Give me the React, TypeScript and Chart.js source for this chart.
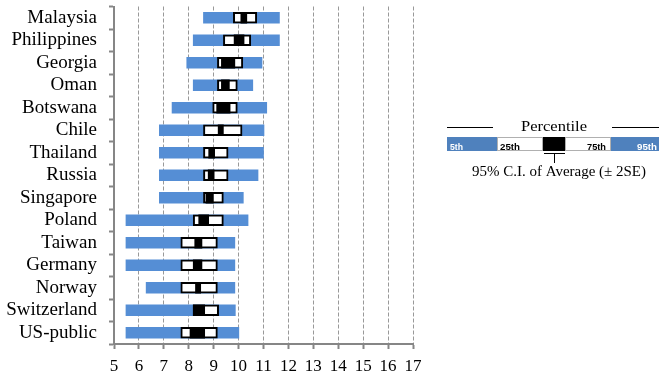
import React, { useEffect, useRef } from 'react';
import { Chart, registerables } from 'chart.js';

Chart.register(...registerables);

// Countries, top to bottom
const countries = [
  'Malaysia', 'Philippines', 'Georgia', 'Oman', 'Botswana', 'Chile', 'Thailand',
  'Russia', 'Singapore', 'Poland', 'Taiwan', 'Germany', 'Norway', 'Switzerland', 'US-public',
];

// Percentiles of the distribution
const p5 = [8.59, 8.18, 7.92, 8.18, 7.33, 6.82, 6.82, 6.82, 6.82, 5.48, 5.48, 5.48, 6.29, 5.48, 5.48];
const p25 = [9.79, 9.39, 9.15, 9.15, 8.96, 8.59, 8.59, 8.59, 8.59, 8.18, 7.68, 7.68, 7.68, 8.18, 7.68];
const p75 = [10.73, 10.49, 10.17, 9.95, 9.95, 10.14, 9.58, 9.58, 9.39, 9.39, 9.15, 9.15, 9.15, 9.2, 9.15];
const p95 = [11.64, 11.64, 10.94, 10.57, 11.13, 11.02, 11.0, 10.78, 10.19, 10.38, 9.85, 9.85, 9.85, 9.87, 10.01];

// 95% confidence interval of the average (mean ± 2SE)
const ciLow = [10.09, 9.82, 9.31, 9.31, 9.12, 9.18, 8.8, 8.78, 8.69, 8.4, 8.24, 8.18, 8.27, 8.18, 8.05];
const ciHigh = [10.33, 10.22, 9.85, 9.63, 9.66, 9.39, 9.04, 9.02, 8.99, 8.8, 8.53, 8.53, 8.48, 8.64, 8.64];

// Axis range
const xMin = 5;
const xMax = 17;

// Key texts
const keyTitle = 'Percentile';
const keyLabels = ['5th', '25th', '75th', '95th'];
const keyNote = '95% C.I. of Average (± 2SE)';

const SERIF = '"Liberation Serif", "Times New Roman", serif';
const BAR_BLUE = '#558ED5';
const KEY_BLUE = '#4F81BD';
const AXIS_GRAY = '#868686';

function stretchedText(
  ctx: CanvasRenderingContext2D,
  text: string,
  x: number,
  baseline: number,
  width: number,
  font: string,
  color: string,
  align: 'left' | 'center' | 'right' = 'center',
) {
  ctx.save();
  ctx.font = font;
  const w = ctx.measureText(text).width;
  ctx.translate(x, baseline);
  ctx.scale(width / w, 1);
  ctx.textAlign = align;
  ctx.textBaseline = 'alphabetic';
  ctx.fillStyle = color;
  ctx.fillText(text, 0, 0);
  ctx.restore();
}

// Key explaining the box elements, drawn to the right of the plot
const percentileKey = {
  id: 'percentileKey',
  afterDraw(chart: Chart) {
    const ctx = chart.ctx;
    ctx.save();

    const line = (x1: number, y1: number, x2: number, y2: number) => {
      ctx.beginPath();
      ctx.moveTo(x1, y1);
      ctx.lineTo(x2, y2);
      ctx.stroke();
    };

    ctx.strokeStyle = '#000';
    ctx.lineWidth = 1;
    line(447, 127.5, 493, 127.5);
    line(612, 127.5, 659, 127.5);
    stretchedText(ctx, keyTitle, 554, 131, 66, `14px ${SERIF}`, '#000');

    const top = 137;
    const h = 14;
    ctx.fillStyle = KEY_BLUE;
    ctx.fillRect(447, top, 50, h);
    ctx.fillRect(611, top, 48, h);
    ctx.fillStyle = '#fff';
    ctx.fillRect(497, top, 46, h);
    ctx.fillRect(565, top, 46, h);
    ctx.strokeStyle = '#b0b0b0';
    ctx.strokeRect(497.5, top + 0.5, 45, h - 1);
    ctx.strokeRect(565.5, top + 0.5, 45, h - 1);
    ctx.fillStyle = '#000';
    ctx.fillRect(543, top, 22, h);

    const keyFont = 'bold 9.5px "Liberation Sans", Arial, sans-serif';
    stretchedText(ctx, keyLabels[0], 450, 150, 13, keyFont, '#fff', 'left');
    stretchedText(ctx, keyLabels[1], 500, 150, 20, keyFont, '#000', 'left');
    stretchedText(ctx, keyLabels[2], 606, 150, 19, keyFont, '#000', 'right');
    stretchedText(ctx, keyLabels[3], 657, 150, 20, keyFont, '#fff', 'right');

    ctx.strokeStyle = '#000';
    ctx.lineWidth = 1;
    line(544, 153.5, 565, 153.5);
    line(554.5, 153.5, 554.5, 163);

    stretchedText(ctx, keyNote, 559, 176, 174, `14px ${SERIF}`, '#000');
    ctx.restore();
  },
};

export default function App() {
  const canvasRef = useRef<HTMLCanvasElement>(null);

  useEffect(() => {
    document.body.style.margin = '0';
    const canvas = canvasRef.current;
    if (!canvas) return;

    const range = (a: number[], b: number[]) => a.map((v, i) => [v, b[i]]);

    const chart = new Chart(canvas, {
      type: 'bar',
      data: {
        labels: countries,
        datasets: [
          {
            label: '5th–95th',
            data: range(p5, p95) as any,
            backgroundColor: BAR_BLUE,
            borderWidth: 0,
            barThickness: 11,
            order: 3,
          },
          {
            label: '25th–75th',
            data: range(p25, p75) as any,
            backgroundColor: '#fff',
            borderColor: '#000',
            borderWidth: 2,
            borderSkipped: false,
            barThickness: 11,
            order: 2,
          },
          {
            label: '95% C.I.',
            data: range(ciLow, ciHigh) as any,
            backgroundColor: '#000',
            borderWidth: 0,
            barThickness: 11,
            order: 1,
          },
        ],
      },
      options: {
        indexAxis: 'y',
        animation: false,
        responsive: false,
        events: [],
        datasets: { bar: { grouped: false } },
        layout: { padding: { top: 6.5, right: 246, left: 0, bottom: 0 } },
        plugins: {
          legend: { display: false },
          tooltip: { enabled: false },
        },
        scales: {
          x: {
            type: 'linear',
            min: xMin,
            max: xMax,
            ticks: {
              stepSize: 1,
              color: '#000',
              padding: 7,
              font: { family: SERIF, size: 17 },
            },
            grid: {
              color: '#999999',
              lineWidth: 1,
              tickLength: 5,
              tickColor: AXIS_GRAY,
              tickWidth: 2,
            },
            border: { color: AXIS_GRAY, width: 2, dash: [4, 2] },
            afterFit: (s: any) => {
              s.height = 35;
              s.paddingLeft = 0;
              s.paddingRight = 0;
            },
          },
          y: {
            type: 'category',
            offset: true,
            ticks: {
              color: '#000',
              padding: 12,
              autoSkip: false,
              font: { family: SERIF, size: 19 },
            },
            grid: {
              offset: true,
              drawOnChartArea: false,
              drawTicks: true,
              tickLength: 5,
              tickColor: AXIS_GRAY,
              tickWidth: 2,
            },
            border: { color: AXIS_GRAY, width: 2 },
            afterFit: (s: any) => {
              s.width = 114;
              s.paddingTop = 0;
              s.paddingBottom = 0;
            },
          },
        },
      },
      plugins: [percentileKey],
    });

    return () => chart.destroy();
  }, []);

  return (
    <div style={{ width: 659, height: 379 }}>
      <canvas ref={canvasRef} width={659} height={379} style={{ display: 'block' }} />
    </div>
  );
}
